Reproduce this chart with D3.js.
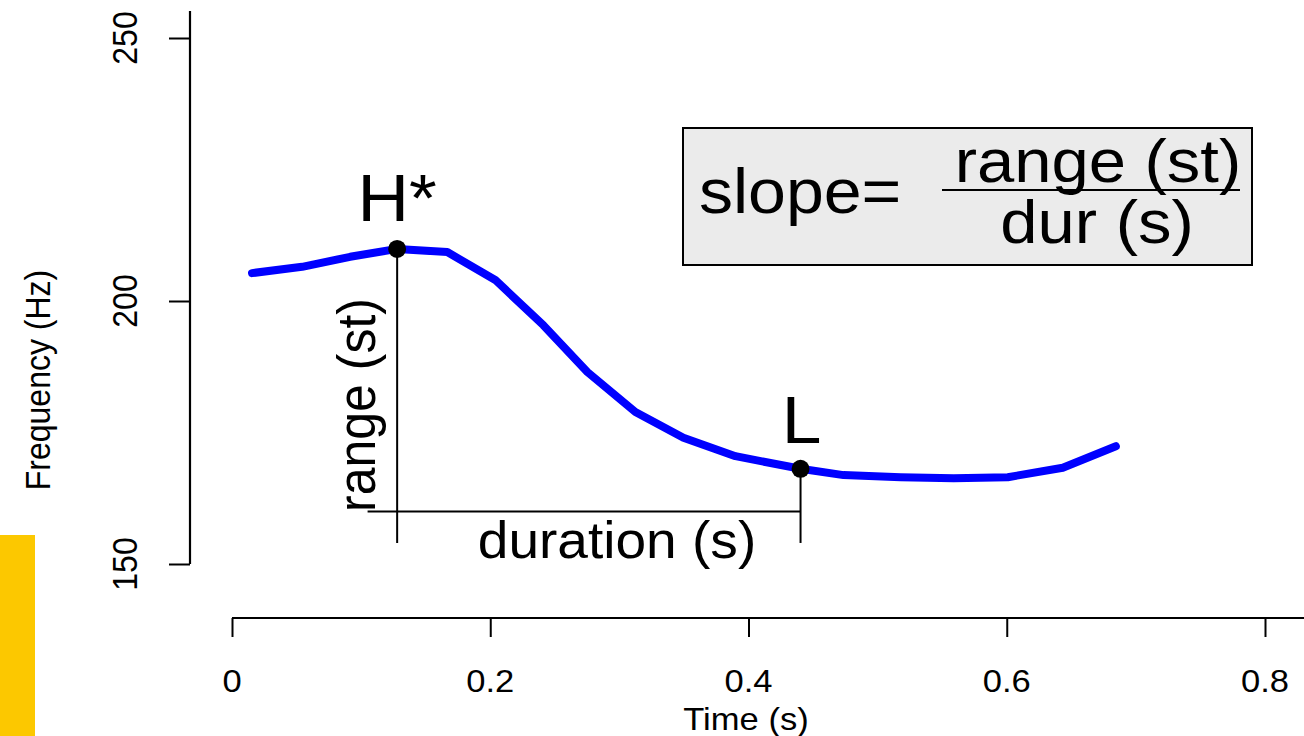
<!DOCTYPE html>
<html>
<head>
<meta charset="utf-8">
<script src="https://cdnjs.cloudflare.com/ajax/libs/d3/7.8.5/d3.min.js"></script>
<style>
  html, body { margin: 0; padding: 0; background: #fff; }
  svg { display: block; }
  text { font-family: "Liberation Sans", Arial, Helvetica, sans-serif; fill: #000; }
</style>
</head>
<body>
<svg id="chart" width="1304" height="736"></svg>
<script>
// pitch track (time in s, frequency in Hz)
const times = [0.0155, 0.0543, 0.0915, 0.1279, 0.1667, 0.2039, 0.2411, 0.2752, 0.3124,
  0.3496, 0.3899, 0.4403, 0.4736, 0.5178, 0.5589, 0.6008, 0.6434, 0.6845]
const freqs = [205.3, 206.5, 208.4, 209.9, 209.3, 204.0, 195.4, 186.5, 178.9,
  174.0, 170.5, 168.1, 166.9, 166.5, 166.3, 166.5, 168.3, 172.4]

const xTicks = [0, 0.2, 0.4, 0.6, 0.8]
const xTickLabels = ["0", "0.2", "0.4", "0.6", "0.8"]
const yTicks = [150, 200, 250]

// high and low turning points
const highPoint = { t: 0.1279, f: 209.9, label: "H*" }
const lowPoint = { t: 0.4403, f: 168.1, label: "L" }
const baseF = 160      // level of the duration bracket
const dropF = 154      // lower end of the vertical markers
const bracketStart = 0.105

const svg = d3.select("#chart")
const x = d3.scaleLinear().domain([0, 0.8]).range([232, 1265])
const y = d3.scaleLinear().domain([150, 250]).range([564, 38])
const stretch = 1.08

const addText = (g, px, py, str, size, opts = {}) => {
	const rot = opts.rotate ? " rotate(-90)" : ""
	return g.append("text")
		.attr("transform", `translate(${px},${py}) scale(${stretch},1)${rot}`)
		.attr("text-anchor", opts.anchor || "middle")
		.style("font-size", size + "px")
		.text(str)
}

// yellow strip at bottom left
svg.append("rect")
	.attr("x", 0).attr("y", 535)
	.attr("width", 35).attr("height", 201)
	.attr("fill", "#fcc800")

// y axis
const yAxis = svg.append("g")
	.attr("transform", "translate(190,0)")
	.call(d3.axisLeft(y).tickValues(yTicks).tickSize(21).tickFormat(""))
yAxis.select(".domain").remove()
yAxis.selectAll(".tick line").attr("stroke", "#000").attr("stroke-width", 2)
yAxis.append("line")
	.attr("x1", 0).attr("x2", 0)
	.attr("y1", y(150)).attr("y2", 11)
	.attr("stroke", "#000").attr("stroke-width", 2.2)
yTicks.forEach(v => addText(svg, 137, y(v), String(v), 32, { rotate: true }))

// x axis
const xAxis = svg.append("g")
	.attr("transform", "translate(0,618)")
	.call(d3.axisBottom(x).tickValues(xTicks).tickSize(19).tickFormat(""))
xAxis.select(".domain").remove()
xAxis.selectAll(".tick line").attr("stroke", "#000").attr("stroke-width", 2)
xAxis.append("line")
	.attr("x1", x(0)).attr("x2", 1304)
	.attr("y1", 0).attr("y2", 0)
	.attr("stroke", "#000").attr("stroke-width", 2.2)
xTicks.forEach((v, i) => addText(svg, x(v), 692, xTickLabels[i], 32))

// axis titles
addText(svg, 746, 730, "Time (s)", 32)
addText(svg, 50, 380, "Frequency (Hz)", 32, { rotate: true })

// bracket lines
const lineStyle = sel => sel.attr("stroke", "#000").attr("stroke-width", 2)
svg.append("line")
	.attr("x1", x(highPoint.t)).attr("x2", x(highPoint.t))
	.attr("y1", y(highPoint.f)).attr("y2", y(dropF))
	.call(lineStyle)
svg.append("line")
	.attr("x1", x(lowPoint.t)).attr("x2", x(lowPoint.t))
	.attr("y1", y(lowPoint.f)).attr("y2", y(dropF))
	.call(lineStyle)
svg.append("line")
	.attr("x1", x(bracketStart)).attr("x2", x(lowPoint.t))
	.attr("y1", y(baseF)).attr("y2", y(baseF))
	.call(lineStyle)

// pitch contour
const line = d3.line()
	.x((d, i) => x(times[i]))
	.y(d => y(d))
svg.append("path")
	.datum(freqs)
	.attr("d", line)
	.attr("fill", "none")
	.attr("stroke", "#0000ff")
	.attr("stroke-width", 8)
	.attr("stroke-linejoin", "round")
	.attr("stroke-linecap", "round")

// turning points
svg.selectAll(".turn")
	.data([highPoint, lowPoint])
	.enter()
	.append("circle")
	.attr("class", "turn")
	.attr("cx", d => x(d.t))
	.attr("cy", d => y(d.f))
	.attr("r", 9)
	.attr("fill", "#000")

addText(svg, x(highPoint.t), 221, highPoint.label, 66)
addText(svg, x(lowPoint.t) + 1, 443, lowPoint.label, 66)
addText(svg, 375, 405, "range (st)", 50, { rotate: true })
addText(svg, 617, 558, "duration (s)", 51)

// formula box
svg.append("rect")
	.attr("x", 683).attr("y", 128)
	.attr("width", 569).attr("height", 137)
	.attr("fill", "#ebebeb")
	.attr("stroke", "#000")
	.attr("stroke-width", 2)
addText(svg, 699, 213, "slope=", 63, { anchor: "start" })
addText(svg, 1098, 182, "range (st)", 62)
addText(svg, 1097, 243, "dur (s)", 62)
svg.append("line")
	.attr("x1", 942).attr("x2", 1240)
	.attr("y1", 190).attr("y2", 190)
	.attr("stroke", "#000").attr("stroke-width", 2)
</script>
</body>
</html>
